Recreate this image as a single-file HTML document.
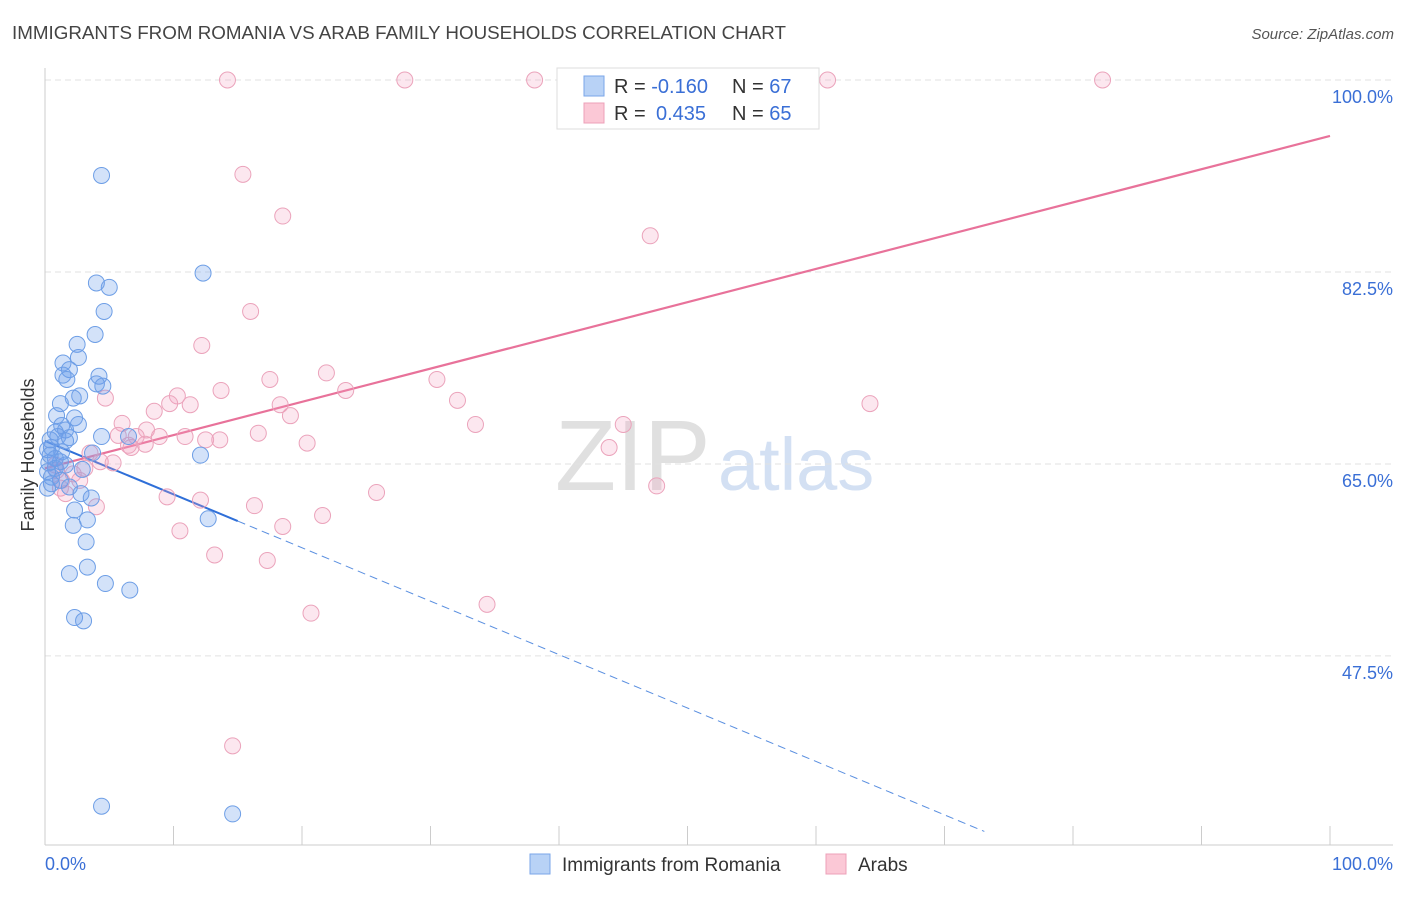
<!DOCTYPE html>
<html><head><meta charset="utf-8"><style>
body{margin:0;background:#fff;font-family:"Liberation Sans",sans-serif}
svg text{font-family:"Liberation Sans",sans-serif}
</style></head><body>
<svg id="c" width="1406" height="892" xmlns="http://www.w3.org/2000/svg">
<text x="12" y="39" font-size="18.8" fill="#444">IMMIGRANTS FROM ROMANIA VS ARAB FAMILY HOUSEHOLDS CORRELATION CHART</text>
<text x="1394" y="39" font-size="15" fill="#555" font-style="italic" text-anchor="end">Source: ZipAtlas.com</text>
<text x="34" y="455" font-size="18" fill="#333" text-anchor="middle" transform="rotate(-90 34 455)">Family Households</text>
<g><text x="555" y="490" font-size="100" fill="#e0e0e0" font-family="Liberation Serif">ZIP</text><text x="718" y="490" font-size="74" fill="#d3e0f3">atlas</text></g>
<g id="grid"></g><g id="axes"></g><g id="lines"></g><g id="pts"></g>
<g>
<rect x="557" y="68" width="262" height="61" fill="#fff" stroke="#ddd"/>
<rect x="584" y="76" width="20" height="20" fill="#b8d2f6" stroke="#7aa6e8"/>
<rect x="584" y="103" width="20" height="20" fill="#fbc8d6" stroke="#eda0b8"/>
<text x="614" y="93" font-size="20" fill="#333">R = <tspan fill="#3a6fd6">-0.160</tspan><tspan x="732">N = </tspan><tspan fill="#3a6fd6">67</tspan></text>
<text x="614" y="120" font-size="20" fill="#333">R = <tspan x="656" fill="#3a6fd6">0.435</tspan><tspan x="732">N = </tspan><tspan fill="#3a6fd6">65</tspan></text>
</g>
<g>
<rect x="530" y="854" width="20" height="20" fill="#b8d2f6" stroke="#7aa6e8"/>
<text x="562" y="871" font-size="19" fill="#333">Immigrants from Romania</text>
<rect x="826" y="854" width="20" height="20" fill="#fbc8d6" stroke="#eda0b8"/>
<text x="858" y="871" font-size="19" fill="#333">Arabs</text>
</g>
</svg>
<script>
const yTicks=[100,82.5,65,47.5];
const yTickLabels=["100.0%","82.5%","65.0%","47.5%"];
const blueX=[4.4,12.3,4.0,5.0,4.6,3.9,2.5,2.6,1.4,1.9,1.4,1.7,4.2,4.0,4.5,2.7,2.2,1.2,0.9,2.3,2.6,1.3,1.6,0.8,1.0,1.9,1.6,4.4,0.4,6.5,0.5,0.2,1.3,3.7,12.1,0.8,0.3,1.6,0.8,2.9,0.2,0.5,1.2,0.5,1.9,0.2,2.8,3.6,2.3,12.7,3.3,2.2,3.2,1.9,3.3,4.7,6.6,2.3,3.0,4.4,14.6,1.2,0.4];
const blueY=[91.3,82.4,81.5,81.1,78.9,76.8,75.9,74.7,74.2,73.6,73.1,72.7,73.0,72.3,72.1,71.2,71.0,70.5,69.4,69.2,68.6,68.5,68.1,67.9,67.5,67.4,67.1,67.5,67.2,67.5,66.5,66.3,66.1,66.0,65.8,65.5,65.1,64.9,64.6,64.5,64.3,63.8,63.5,63.2,62.9,62.8,62.3,61.9,60.8,60.0,59.9,59.4,57.9,55.0,55.6,54.1,53.5,51.0,50.7,33.8,33.1,65.2,65.8];
const pinkX=[14.2,28.0,38.1,60.9,82.3,15.4,18.5,47.1,16.0,12.2,21.9,17.5,30.5,13.7,23.4,10.3,8.5,9.7,11.3,32.1,18.3,19.1,33.5,6.0,4.7,7.9,10.9,8.9,5.7,7.1,6.7,13.6,12.5,16.6,20.4,45.0,43.9,64.2,3.5,6.5,7.8,4.3,5.3,3.1,2.2,0.9,2.7,1.2,1.6,4.0,9.5,12.1,16.3,25.8,47.6,21.6,18.5,10.5,13.2,17.3,34.4,20.7,14.6,1.3,0.8];
const pinkY=[100,100,100,100,100,91.4,87.6,85.8,78.9,75.8,73.3,72.7,72.7,71.7,71.7,71.2,69.8,70.5,70.4,70.8,70.4,69.4,68.6,68.7,71.0,68.1,67.5,67.5,67.6,67.5,66.5,67.2,67.2,67.8,66.9,68.6,66.5,70.5,66.0,66.7,66.8,65.2,65.1,64.6,64.1,64.4,63.5,62.8,62.3,61.1,62.0,61.7,61.2,62.4,63.0,60.3,59.3,58.9,56.7,56.2,52.2,51.4,39.3,63.5,64.9];
const blueLine=[67.1,-0.487];
const pinkLine=[64.6,0.303];
const X=v=>45+v*12.85, Y=v=>80+(100-v)*10.97;
const NS="http://www.w3.org/2000/svg";
function mk(t,a,p){const e=document.createElementNS(NS,t);for(const k in a)e.setAttribute(k,a[k]);document.getElementById(p).appendChild(e);return e;}
yTicks.forEach((t,i)=>{
 const g=mk('line',{x1:45,x2:1393,y1:Y(t),y2:Y(t),stroke:'#e2e2e2','stroke-dasharray':'6,4'},'grid');
 
 
 const l=mk('text',{x:1393,y:Y(t)+23,'font-size':18,fill:'#3a6fd6','text-anchor':'end'},'axes');
 l.textContent=yTickLabels[i];
 
 
});
let a=mk('line',{x1:45,x2:45,y1:68,y2:845,stroke:'#ccc'},'axes');


a=mk('line',{x1:45,x2:1393,y1:845,y2:845,stroke:'#ccc'},'axes');


for(let i=0;i<=10;i++){const t=mk('line',{x1:X(i*10),x2:X(i*10),y1:826,y2:845,stroke:'#ccc'},'axes');
 
 }
[[0,"0.0%","start",45],[100,"100.0%","end",1393]].forEach(d=>{const t=mk('text',{x:d[3],y:870,'font-size':18,fill:'#3a6fd6','text-anchor':d[2]},'axes');t.textContent=d[1];
 
 });
const bx2=15;
let ln=mk('line',{x1:X(0),y1:Y(blueLine[0]),x2:X(bx2),y2:Y(blueLine[0]+blueLine[1]*bx2),stroke:'#2f6fd8','stroke-width':2},'lines');


ln=mk('line',{x1:X(bx2),y1:Y(blueLine[0]+blueLine[1]*bx2),x2:X(-(blueLine[0]-31.5)/blueLine[1]),y2:Y(31.5),stroke:'#5a8fe0','stroke-width':1,'stroke-dasharray':'8,5'},'lines');


ln=mk('line',{x1:X(0),y1:Y(pinkLine[0]),x2:X(100),y2:Y(pinkLine[0]+pinkLine[1]*100),stroke:'#e8729a','stroke-width':2.2},'lines');


pinkX.forEach((v,i)=>{const c=mk('circle',{cx:X(v),cy:Y(pinkY[i]),r:8,fill:'rgba(245,160,190,0.25)',stroke:'#eba3bb','stroke-width':1},'pts');
 
 });
blueX.forEach((v,i)=>{const c=mk('circle',{cx:X(v),cy:Y(blueY[i]),r:8,fill:'rgba(110,160,235,0.3)',stroke:'#6d9ee6','stroke-width':1},'pts');
 
 });
</script>
</body></html>
